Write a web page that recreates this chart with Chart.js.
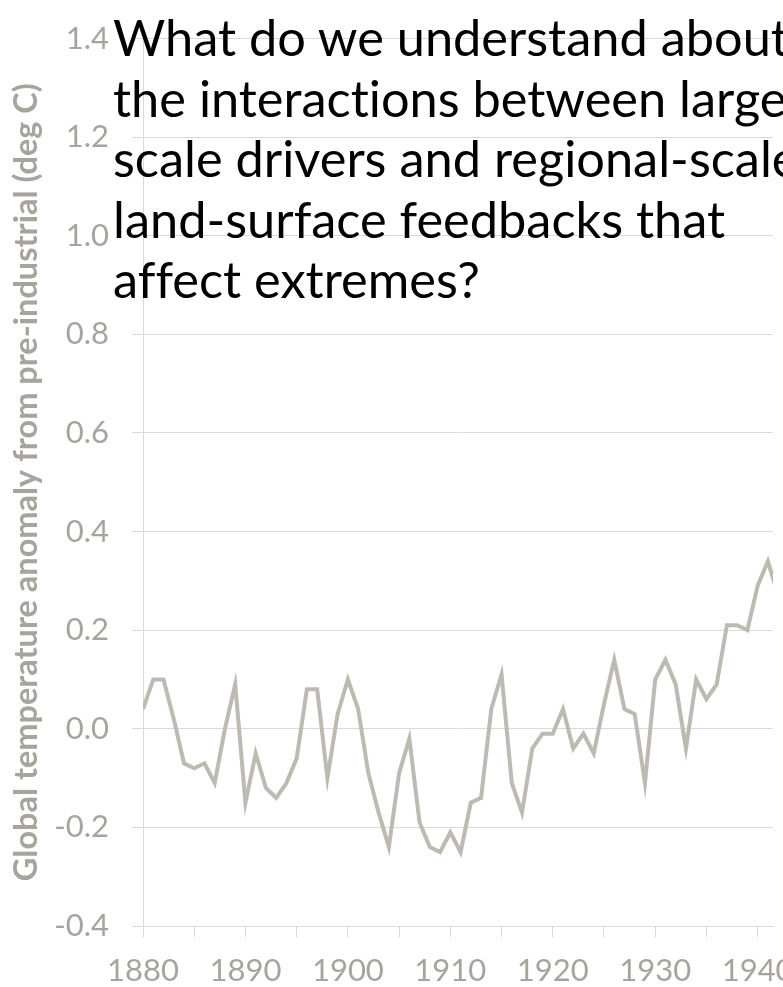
<!DOCTYPE html>
<html>
<head>
<meta charset="utf-8">
<script src="https://cdn.jsdelivr.net/npm/chart.js@4.4.0/dist/chart.umd.min.js"></script>
<style>
  html, body { margin: 0; padding: 0; width: 783px; height: 987px; overflow: hidden; background: #fff; }
  #wrap { position: absolute; left: 0; top: 0; width: 820px; height: 987px; }
  #question {
    position: absolute; left: 113px; top: 7px;
    font-family: Lato, sans-serif; font-size: 50.5px; line-height: 60.5px;
    font-variant-ligatures: none;
    color: #000; white-space: pre;
  }
</style>
</head>
<body>
<div id="wrap"><canvas id="chart" width="820" height="987"></canvas></div>
<div id="question">What do we understand about
the interactions between large-
scale drivers and regional-scale
land-surface feedbacks that
affect extremes?</div>
<script>
// Global temperature anomaly
const years = [
  1880, 1881, 1882, 1883, 1884, 1885, 1886, 1887, 1888, 1889,
  1890, 1891, 1892, 1893, 1894, 1895, 1896, 1897, 1898, 1899,
  1900, 1901, 1902, 1903, 1904, 1905, 1906, 1907, 1908, 1909,
  1910, 1911, 1912, 1913, 1914, 1915, 1916, 1917, 1918, 1919,
  1920, 1921, 1922, 1923, 1924, 1925, 1926, 1927, 1928, 1929,
  1930, 1931, 1932, 1933, 1934, 1935, 1936, 1937, 1938, 1939,
  1940, 1941, 1942
];
const anomaly = [
  0.04, 0.10, 0.10, 0.02, -0.07, -0.08, -0.07, -0.11, 0.00, 0.09,
  -0.15, -0.05, -0.12, -0.14, -0.11, -0.06, 0.08, 0.08, -0.10, 0.03,
  0.10, 0.04, -0.09, -0.17, -0.24, -0.09, -0.02, -0.19, -0.24, -0.25,
  -0.21, -0.25, -0.15, -0.14, 0.04, 0.11, -0.11, -0.17, -0.04, -0.01,
  -0.01, 0.04, -0.04, -0.01, -0.05, 0.05, 0.14, 0.04, 0.03, -0.11,
  0.10, 0.14, 0.09, -0.04, 0.10, 0.06, 0.09, 0.21, 0.21, 0.20,
  0.29, 0.34, 0.27
];
const yTicks = [-0.4, -0.2, 0.0, 0.2, 0.4, 0.6, 0.8, 1.0, 1.2, 1.4];
const xLabelEvery = 10;

const grey = '#a6a49d';
const gridGrey = '#d9d9d9';

new Chart(document.getElementById('chart'), {
  type: 'line',
  data: {
    datasets: [{
      data: years.map((yr, i) => ({ x: yr, y: anomaly[i] })),
      borderColor: '#bdbab3',
      borderWidth: 4,
      pointRadius: 0,
      tension: 0,
      fill: false
    }]
  },
  options: {
    responsive: false,
    animation: false,
    devicePixelRatio: 1,
    layout: { padding: { left: 0, top: 17, right: 47, bottom: 0 } },
    plugins: { legend: { display: false }, tooltip: { enabled: false } },
    scales: {
      x: {
        type: 'linear',
        min: 1880,
        max: 1941.5,
        afterFit: s => { s.height = 61; },
        ticks: {
          stepSize: 5,
          includeBounds: false,
          autoSkip: false,
          maxRotation: 0,
          padding: 18,
          color: grey,
          font: { family: 'Lato', size: 31, lineHeight: 1 },
          callback: v => (v % xLabelEvery === 0 ? String(v) : '')
        },
        grid: { drawOnChartArea: false, drawTicks: true, tickLength: 11, color: gridGrey },
        border: { display: true, color: gridGrey }
      },
      y: {
        min: -0.4,
        max: 1.4,
        afterFit: s => { s.width = 143; },
        afterBuildTicks: s => { s.ticks = yTicks.map(v => ({ value: v })); },
        ticks: {
          padding: 23,
          color: grey,
          font: { family: 'Lato', size: 31, lineHeight: 1 },
          callback: v => Number(v).toFixed(1)
        },
        grid: { color: gridGrey, tickLength: 11, drawTicks: true },
        border: { display: true, color: gridGrey },
        title: {
          display: true,
          text: 'Global temperature anomaly from pre-industrial (deg C)',
          color: grey,
          font: { family: 'Lato', size: 32.5, weight: 'bold', lineHeight: 1.2 },
          padding: { top: 7, bottom: 0 }
        }
      }
    }
  }
});
</script>
</body>
</html>
